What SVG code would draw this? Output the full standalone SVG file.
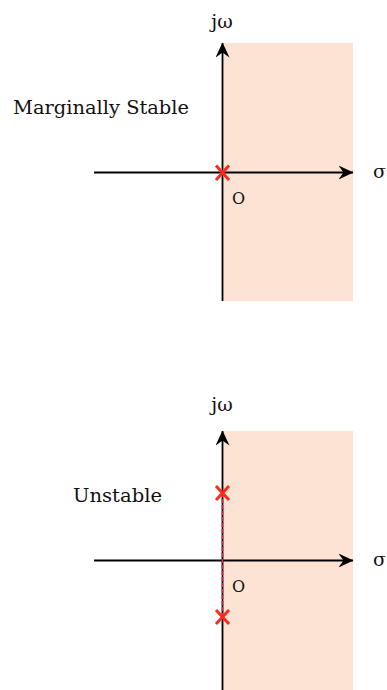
<svg xmlns="http://www.w3.org/2000/svg" width="387" height="690" viewBox="0 0 387 690">
<style>
.region{fill:#fde3d3}
.axis{stroke:#000;stroke-width:1.8;fill:none}
.lbl{font-family:"DejaVu Serif","Liberation Serif",serif;font-size:19px;fill:#111}
.o{font-family:"DejaVu Serif","Liberation Serif",serif;font-size:16px;fill:#111}
.pole{stroke:#ff2a1a;stroke-width:3;fill:none}
.dash{stroke:#e0204a;stroke-width:1.6;stroke-dasharray:4,2;fill:none}
</style>
<defs>
<marker id="arr" viewBox="0 0 15 14" refX="14.5" refY="7" markerWidth="15" markerHeight="14" markerUnits="userSpaceOnUse" orient="auto">
<path d="M0,0 L15,7 L0,14 L5,7 Z" fill="#000"/>
</marker>
</defs>
<g id="top-panel">
<rect class="region" x="223" y="43" width="130" height="258"/>
</g>
<g id="bottom-panel">
<rect class="region" x="223" y="431" width="130" height="259"/>
</g>
<g id="connectors">
<line class="axis" x1="222.5" y1="301" x2="222.5" y2="43" marker-end="url(#arr)"/>
<line class="axis" x1="94" y1="172.5" x2="353" y2="172.5" marker-end="url(#arr)"/>
<line class="axis" x1="222.5" y1="690" x2="222.5" y2="431" marker-end="url(#arr)"/>
<line class="axis" x1="94" y1="560.5" x2="353" y2="560.5" marker-end="url(#arr)"/>
<line class="dash" x1="222.5" y1="493" x2="222.5" y2="617"/>
</g>
<g id="pole-top">
<path class="pole" d="M216,165.5 L229,180 M229,165.5 L216,180"/>
</g>
<g id="pole-upper">
<path class="pole" d="M216,486 L229,500 M229,486 L216,500"/>
</g>
<g id="pole-lower">
<path class="pole" d="M216,610 L229,624 M229,610 L216,624"/>
</g>
<g id="labels">
<text class="lbl" x="222" y="28" text-anchor="middle">jω</text>
<text class="lbl" x="373" y="178">σ</text>
<text class="o" x="232" y="204">O</text>
<text class="lbl" x="13" y="114" textLength="176" lengthAdjust="spacingAndGlyphs">Marginally Stable</text>
<text class="lbl" x="222" y="411" text-anchor="middle">jω</text>
<text class="lbl" x="373" y="566">σ</text>
<text class="o" x="232" y="592">O</text>
<text class="lbl" x="73" y="502" textLength="89" lengthAdjust="spacingAndGlyphs">Unstable</text>
</g>
</svg>
